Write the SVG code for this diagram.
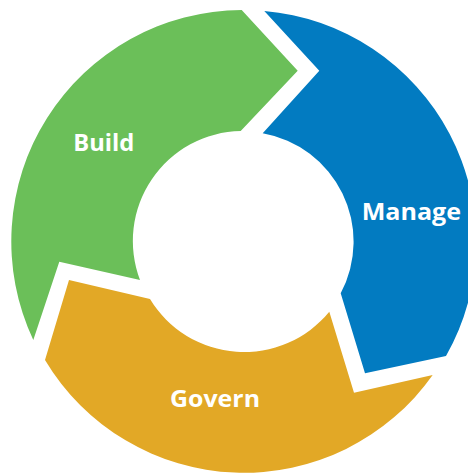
<svg xmlns="http://www.w3.org/2000/svg" width="468" height="473" viewBox="0 0 468 473">
  <style>
    .lbl { font-family: "Open Sans", "Noto Sans", "Liberation Sans", sans-serif; font-weight: bold; font-size: 24px; fill: #ffffff; }
    .build { fill: #6BBF59; }
    .manage { fill: #027BC1; }
    .govern { fill: #E2A826; }
  </style>
  <rect width="468" height="473" fill="#ffffff"/>
  <g id="connectors"/>
  <g id="build">
    <path class="build" d="M 241.7 10 L 297.7 70.7 L 240.7 131 A 110 110 0 0 0 140 280 L 59.3 261.7 L 33.3 340 A 231.5 231.5 0 0 1 241.7 10 Z"/>
    <text class="lbl" x="73.3" y="150.7" textLength="61" lengthAdjust="spacingAndGlyphs">Build</text>
  </g>
  <g id="manage">
    <path class="manage" d="M 264.3 11 A 231.5 231.5 0 0 1 446 356 L 365 373.3 L 340.7 293.3 A 110 110 0 0 0 262.7 133.3 L 319.3 70.7 Z"/>
    <text class="lbl" x="361.7" y="219.5" textLength="99.3" lengthAdjust="spacingAndGlyphs">Manage</text>
  </g>
  <g id="govern">
    <path class="govern" d="M 45 360 L 69 280 L 150 299 A 110 110 0 0 0 329.3 311.7 L 354 392.7 L 432.7 375 A 231.5 231.5 0 0 1 45 360 Z"/>
    <text class="lbl" x="170" y="406.7" textLength="90" lengthAdjust="spacingAndGlyphs">Govern</text>
  </g>
</svg>
